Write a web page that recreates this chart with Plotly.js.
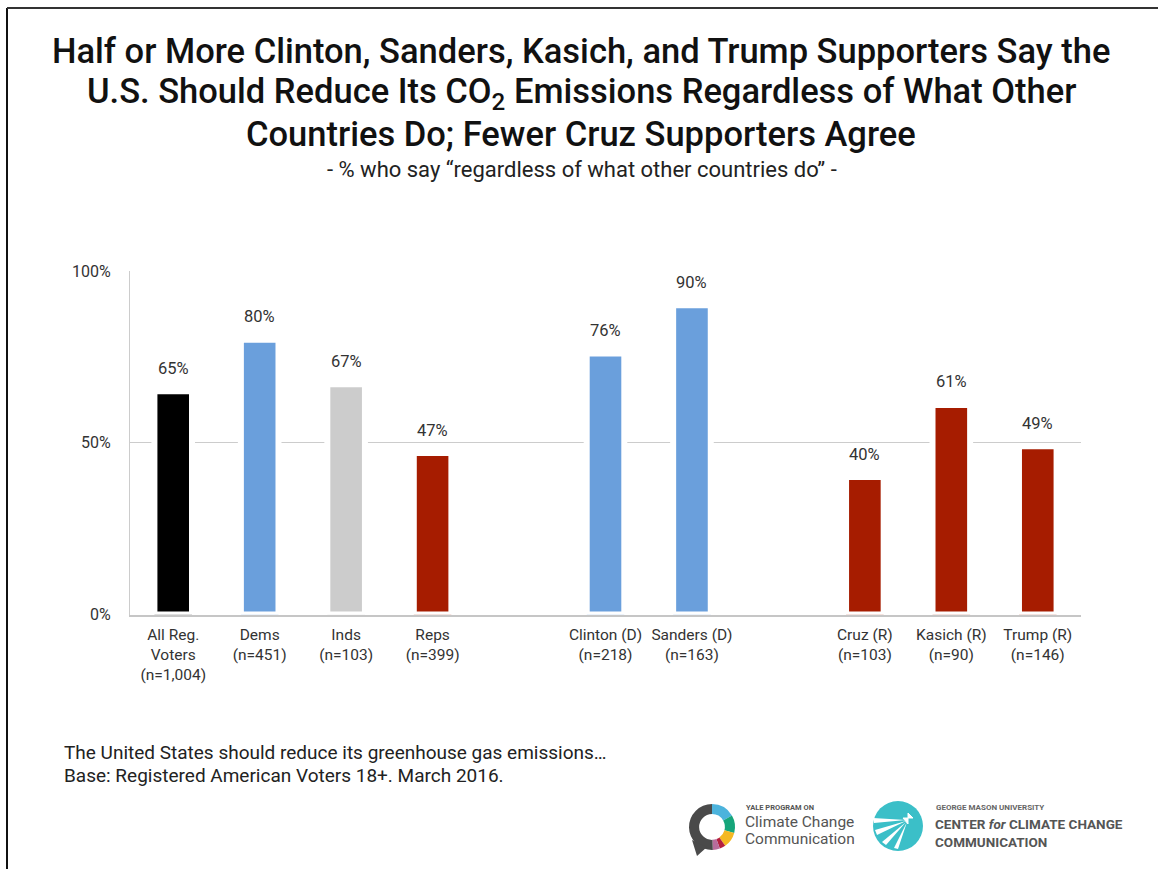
<!DOCTYPE html>
<html>
<head>
<meta charset="utf-8">
<script src="https://cdn.plot.ly/plotly-3.0.1.min.js"></script>
<style>
  html, body { margin: 0; padding: 0; background: #ffffff; }
  #chart { width: 1158px; height: 869px; }
</style>
</head>
<body>
<div id="chart"></div>
<script>
// ---------- data ----------
const categories = ['All Reg. Voters', 'Dems', 'Inds', 'Reps', 'Clinton (D)', 'Sanders (D)', 'Cruz (R)', 'Kasich (R)', 'Trump (R)'];
const tickLabels = ['All Reg.<br>Voters<br>(n=1,004)', 'Dems<br>(n=451)', 'Inds<br>(n=103)', 'Reps<br>(n=399)',
                    'Clinton (D)<br>(n=218)', 'Sanders (D)<br>(n=163)',
                    'Cruz (R)<br>(n=103)', 'Kasich (R)<br>(n=90)', 'Trump (R)<br>(n=146)'];
const percentages = [65, 80, 67, 47, 76, 90, 40, 61, 49];
const yTickValues = [0, 50, 100];
const yTickLabels = ['0%', '50%', '100%'];

// ---------- styles ----------
const barColors = ['#000000', '#6a9fdc', '#cccccc', '#a61c00', '#6a9fdc', '#6a9fdc', '#a61c00', '#a61c00', '#a61c00'];
const axisOrder = [categories[0], categories[1], categories[2], categories[3], 'gap1',
                   categories[4], categories[5], 'gap2', categories[6], categories[7], categories[8]];

const W = 1158, H = 869;
const px = x => x / W;
const py = y => 1 - y / H;
const FONT = 'Roboto, "Open Sans", sans-serif';

const traces = [{
  type: 'bar',
  x: categories,
  y: percentages,
  marker: { color: barColors, line: { color: '#ffffff', width: 6 } },
  width: 0.435,
  hoverinfo: 'skip',
  showlegend: false,
  xaxis: 'x', yaxis: 'y'
}, {
  // Yale logo ring (decoration)
  type: 'pie',
  values: [60, 45, 40, 15, 18, 182],
  marker: { colors: ['#4cb3dc', '#16a57a', '#f5b822', '#b51f3f', '#b86c9c', '#4a4a4a'], line: { width: 0 } },
  hole: 0.56,
  sort: false,
  direction: 'clockwise',
  rotation: 0,
  textinfo: 'none',
  hoverinfo: 'skip',
  showlegend: false,
  domain: { x: [px(689), px(735)], y: [py(850), py(804)] }
}];

const annotations = [];
// title lines
const titleLines = [
  ['Half or More Clinton, Sanders, Kasich, and Trump Supporters Say the', 51],
  ['U.S. Should Reduce Its CO<sub>2</sub> Emissions Regardless of What Other', 93],
  ['Countries Do; Fewer Cruz Supporters Agree', 134]
];
titleLines.forEach(([t, y]) => annotations.push({
  xref: 'paper', yref: 'paper', x: px(581), y: py(y), xanchor: 'center', yanchor: 'middle',
  text: t, showarrow: false, font: { family: FONT, size: 34.5, color: '#111111', weight: 500 }
}));
annotations.push({
  xref: 'paper', yref: 'paper', x: px(582), y: py(170), xanchor: 'center', yanchor: 'middle',
  text: '- % who say “regardless of what other countries do” -', showarrow: false,
  font: { family: FONT, size: 22, color: '#222222' }
});
// value labels
categories.forEach((c, i) => annotations.push({
  xref: 'x', yref: 'y', x: c, y: percentages[i], yanchor: 'middle', yshift: 23,
  text: percentages[i] + '%', showarrow: false, font: { family: FONT, size: 16.5, color: '#333333' }
}));
// footnotes
annotations.push({
  xref: 'paper', yref: 'paper', x: px(62), y: py(752), xanchor: 'left', yanchor: 'middle',
  text: 'The United States should reduce its greenhouse gas emissions…', showarrow: false,
  font: { family: FONT, size: 19, color: '#222222' }
});
annotations.push({
  xref: 'paper', yref: 'paper', x: px(62), y: py(775), xanchor: 'left', yanchor: 'middle',
  text: 'Base: Registered American Voters 18+. March 2016.', showarrow: false,
  font: { family: FONT, size: 19, color: '#222222' }
});
// logo texts
const logoText = (t, x, y, size, color, weight) => annotations.push({
  xref: 'paper', yref: 'paper', x: px(x), y: py(y), xanchor: 'left', yanchor: 'middle',
  text: t, showarrow: false, borderpad: 0, font: { family: FONT, size: size, color: color, weight: weight || 400 }
});
logoText('YALE PROGRAM ON', 745, 807, 7.5, '#555555', 700);
logoText('Climate Change', 744, 822, 15.5, '#555555');
logoText('Communication', 744, 839, 15.5, '#555555');
logoText('GEORGE MASON UNIVERSITY', 935, 807, 8, '#666666', 700);
logoText('CENTER <i>for</i> CLIMATE CHANGE', 934, 824, 13.5, '#555555', 700);
logoText('COMMUNICATION', 934, 842, 13.5, '#555555', 700);

const P = (pts) => 'M ' + pts.map(p => px(p[0]) + ',' + py(p[1])).join(' L ') + ' Z';

const shapes = [
  // frame
  { type: 'line', xref: 'paper', yref: 'paper', x0: px(7), x1: px(7), y0: py(8), y1: 0, line: { color: '#111111', width: 2 } },
  { type: 'line', xref: 'paper', yref: 'paper', x0: px(7), x1: 1, y0: py(8), y1: py(8), line: { color: '#333333', width: 2 } },
  // Yale bubble tail
  { type: 'path', xref: 'paper', yref: 'paper', path: P([[692, 840], [697, 856], [707, 847]]), fillcolor: '#4a4a4a', line: { width: 0 } },
  // Mason circle
  { type: 'circle', xref: 'paper', yref: 'paper', x0: px(873), x1: px(923), y0: py(801), y1: py(851), fillcolor: '#3bbfc8', line: { width: 0 } },
  // Mason white rays
  { type: 'path', xref: 'paper', yref: 'paper', path: P([[906, 820], [873, 818], [874, 823]]), fillcolor: '#ffffff', line: { width: 0 } },
  { type: 'path', xref: 'paper', yref: 'paper', path: P([[906, 821], [875, 830], [877, 835]]), fillcolor: '#ffffff', line: { width: 0 } },
  { type: 'path', xref: 'paper', yref: 'paper', path: P([[906, 822], [882, 842], [886, 845]]), fillcolor: '#ffffff', line: { width: 0 } },
  { type: 'path', xref: 'paper', yref: 'paper', path: P([[907, 822], [894, 848], [898, 849]]), fillcolor: '#ffffff', line: { width: 0 } },
  { type: 'path', xref: 'paper', yref: 'paper', path: P([[903, 818], [913, 818], [908, 813], [908, 824]]), fillcolor: '#ffffff', line: { color: '#ffffff', width: 1 } }
];

const layout = {
  width: W, height: H,
  margin: { l: 0, r: 0, t: 0, b: 0, pad: 0 },
  paper_bgcolor: '#ffffff', plot_bgcolor: '#ffffff',
  font: { family: FONT, color: '#333333' },
  showlegend: false,
  xaxis: {
    domain: [px(130), px(1081)],
    type: 'category', categoryorder: 'array', categoryarray: axisOrder,
    range: [-0.5, 10.5],
    tickvals: categories, ticktext: tickLabels,
    tickfont: { family: FONT, size: 15.5, color: '#333333' },
    showgrid: false, zeroline: false,
    showline: true, linecolor: '#c6c6c6', linewidth: 2,
    ticks: '', ticklabelstandoff: 5,
    automargin: false, fixedrange: true
  },
  yaxis: {
    domain: [py(614.5), py(271)],
    range: [0, 100],
    tickvals: yTickValues, ticktext: yTickLabels,
    tickfont: { family: FONT, size: 16, color: '#333333' },
    showgrid: true, gridcolor: '#cccccc', gridwidth: 1,
    zeroline: false,
    showline: true, linecolor: '#cccccc', linewidth: 1,
    ticks: '', ticklabelstandoff: 15,
    automargin: false, fixedrange: true
  },
  annotations: annotations,
  shapes: shapes
};

Plotly.newPlot('chart', traces, layout, { displayModeBar: false, staticPlot: true });
</script>
</body>
</html>
